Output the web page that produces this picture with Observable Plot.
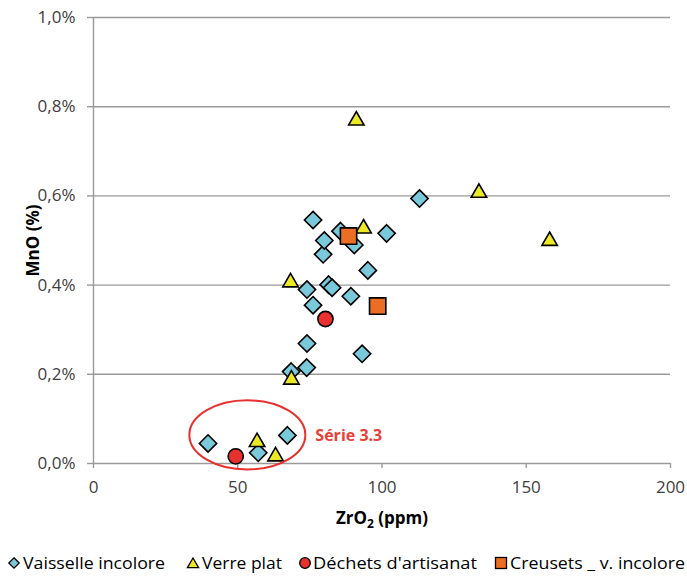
<!DOCTYPE html>
<html>
<head>
<meta charset="utf-8">
<script src="https://cdn.jsdelivr.net/npm/d3@7"></script>
<script src="https://cdn.jsdelivr.net/npm/@observablehq/plot@0.6"></script>
<style>
  body { margin: 0; background: #fff; font-family: "Open Sans", sans-serif; }
  #chart svg, #legend svg { display: block; }
</style>
</head>
<body>
<div id="chart"></div>
<div id="legend"></div>
<script>
// ---- data ----
const xTicks = [0, 50, 100, 150, 200];
const yTicks = [0, 0.2, 0.4, 0.6, 0.8, 1.0];

const vaisselleZr = [39.7, 57.1, 67.2, 68.5, 73.9, 74.0, 74.0, 76.1, 76.1, 79.6, 80.0, 81.5, 82.7, 85.6, 89.2, 90.4, 93.1, 95.1, 101.6, 113.0];
const vaisselleMn = [0.045, 0.024, 0.063, 0.206, 0.215, 0.269, 0.390, 0.355, 0.546, 0.469, 0.500, 0.401, 0.394, 0.521, 0.375, 0.490, 0.246, 0.433, 0.516, 0.594];

const verreZr = [56.7, 63.1, 68.6, 68.3, 91.1, 93.6, 133.6, 158.1];
const verreMn = [0.048, 0.016, 0.188, 0.406, 0.769, 0.527, 0.607, 0.499];

const dechetsZr = [49.3, 80.4];
const dechetsMn = [0.016, 0.324];

const creusetsZr = [88.4, 98.5];
const creusetsMn = [0.510, 0.353];

const seriesNames = ["Vaisselle incolore", "Verre plat", "Déchets d'artisanat", "Creusets _ v. incolore"];
const seriesColors = ["#79c9da", "#ece826", "#e8302e", "#ea6f24"];

// annotation (Série 3.3)
const annotLabel = "Série 3.3";
const annotCenter = [53.5, 0.063];
const annotRadius = [20.1, 0.0775];
const annotTextPos = [76.9, 0.063];

const toRows = (xs, ys) => xs.map((x, i) => ({x, y: ys[i]}));
const vaisselle = toRows(vaisselleZr, vaisselleMn);
const verre = toRows(verreZr, verreMn);
const dechets = toRows(dechetsZr, dechetsMn);
const creusets = toRows(creusetsZr, creusetsMn);

const fmtY = d => d.toFixed(1).replace(".", ",") + "%";

const ellipseMark = (index, scales, values, dims, context) => {
  const ns = "http://www.w3.org/2000/svg";
  const e = context.document.createElementNS(ns, "ellipse");
  const cx = scales.x(annotCenter[0]), cy = scales.y(annotCenter[1]);
  const rx = Math.abs(scales.x(annotCenter[0] + annotRadius[0]) - cx);
  const ry = Math.abs(scales.y(annotCenter[1] + annotRadius[1]) - cy);
  e.setAttribute("cx", cx); e.setAttribute("cy", cy);
  e.setAttribute("rx", rx); e.setAttribute("ry", ry);
  e.setAttribute("fill", "none"); e.setAttribute("stroke", "#e8302e");
  e.setAttribute("stroke-width", 2);
  return e;
};

const dotOpts = {x: "x", y: "y", stroke: "#000", strokeWidth: 1.6};

const chart = Plot.plot({
  width: 687,
  height: 540,
  marginLeft: 93,
  marginRight: 17,
  marginTop: 17,
  marginBottom: 77,
  style: {fontFamily: "Open Sans", fontSize: "17px", background: "#fff"},
  x: {domain: [0, 200]},
  y: {domain: [0, 1]},
  marks: [
    Plot.gridY(yTicks, {stroke: "#9a9a9a", strokeOpacity: 1, strokeWidth: 1.4}),
    Plot.ruleX([0], {stroke: "#9a9a9a", strokeWidth: 1.4}),
    Plot.axisY(yTicks, {tickSize: 6, tickPadding: 12, tickFormat: fmtY, stroke: "#9a9a9a", strokeWidth: 1.4, fill: "#404040",
      label: "MnO (%)", labelAnchor: "center", labelArrow: "none", labelOffset: 67}),
    Plot.axisX(xTicks, {tickSize: 5, tickPadding: 12, stroke: "#9a9a9a", strokeWidth: 1.4, fill: "#404040",
      label: "ZrO2 (ppm)", labelAnchor: "center", labelArrow: "none", labelOffset: 60}),
    Plot.dot(vaisselle, {...dotOpts, symbol: "diamond2", r: 7.8, fill: seriesColors[0]}),
    Plot.dot(verre, {...dotOpts, symbol: "triangle2", r: 7.4, fill: seriesColors[1]}),
    Plot.dot(dechets, {...dotOpts, symbol: "circle", r: 7.6, fill: seriesColors[2]}),
    Plot.dot(creusets, {...dotOpts, symbol: "square", r: 9.2, fill: seriesColors[3]}),
    ellipseMark,
    Plot.text([{x: annotTextPos[0], y: annotTextPos[1], t: annotLabel}], {x: "x", y: "y", text: "t", textAnchor: "start",
      fill: "#e8413a", fontWeight: "bold", fontSize: 16})
  ]
});
document.getElementById("chart").appendChild(chart);

// style axis labels (bold, black, subscript)
chart.querySelectorAll('g[aria-label="y-axis label"] text, g[aria-label="x-axis label"] text').forEach(t => {
  t.setAttribute("font-weight", "bold");
  t.setAttribute("fill", "#000");
  t.style.fontWeight = "bold";
  t.style.fill = "#000";
});
const ns = "http://www.w3.org/2000/svg";
const xl = chart.querySelector('g[aria-label="x-axis label"] text');
if (xl) {
  xl.textContent = "";
  const a = document.createElementNS(ns, "tspan"); a.textContent = "ZrO";
  const b = document.createElementNS(ns, "tspan"); b.textContent = "2"; b.setAttribute("font-size", "12"); b.setAttribute("dy", "4");
  const c = document.createElementNS(ns, "tspan"); c.textContent = " (ppm)"; c.setAttribute("dy", "-4");
  xl.append(a, b, c);
}

// legend (below the plot SVG)
const legendSymbolX = [14, 193, 305, 501];
const legendTextX = [23, 202, 313, 510];
const legendTextW = [142, 80, 164, 175];
const symShapes = [
  c => `<path d="M0,-5.2L5.2,0L0,5.2L-5.2,0Z" fill="${c}" stroke="#000" stroke-width="1.3"/>`,
  c => `<path d="M0,-5L5.6,4.6L-5.6,4.6Z" fill="${c}" stroke="#000" stroke-width="1.3"/>`,
  c => `<circle r="5.3" fill="${c}" stroke="#000" stroke-width="1.3"/>`,
  c => `<rect x="-5.5" y="-5.5" width="11" height="11" fill="${c}" stroke="#000" stroke-width="1.3"/>`
];
let lg = `<svg width="687" height="36" xmlns="${ns}" style="font-family:'Open Sans',sans-serif;font-size:17px">`;
seriesNames.forEach((name, i) => {
  lg += `<g transform="translate(${legendSymbolX[i]},23)">${symShapes[i](seriesColors[i])}</g>`;
  lg += `<text x="${legendTextX[i]}" y="23" dy="0.35em" fill="#000" textLength="${legendTextW[i]}" lengthAdjust="spacingAndGlyphs">${name}</text>`;
});
lg += `</svg>`;
document.getElementById("legend").innerHTML = lg;
</script>
</body>
</html>
